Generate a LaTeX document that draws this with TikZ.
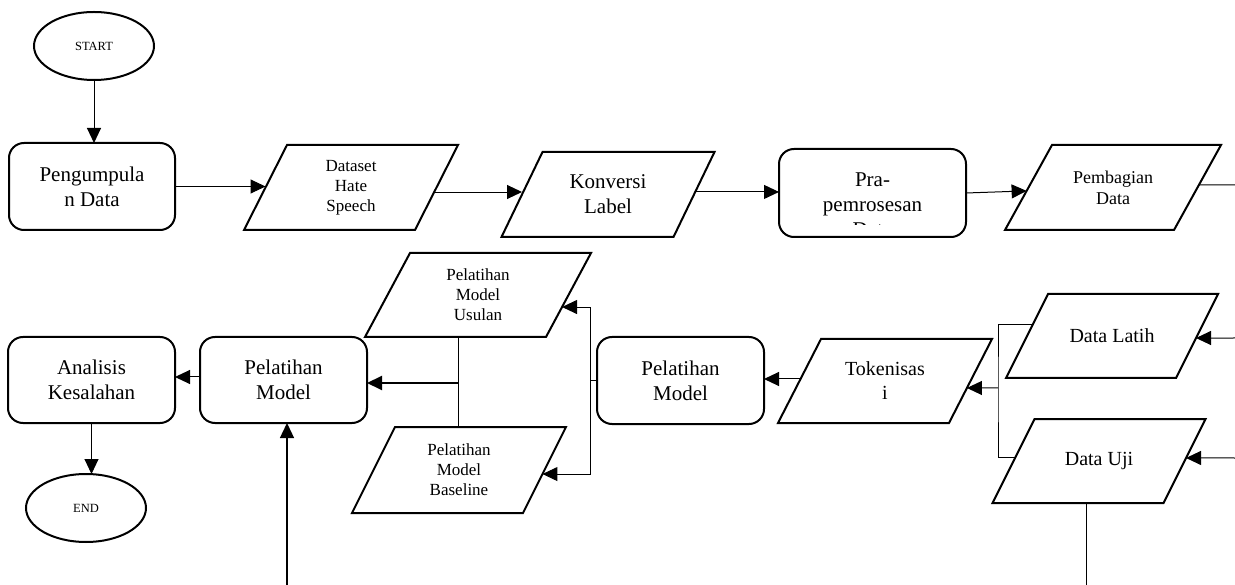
\documentclass[tikz,border=0pt]{standalone}
\usepackage{fontspec}
\setmainfont{Liberation Serif}
\usetikzlibrary{arrows.meta,shapes.geometric,calc}
\newcommand\paral[2]{%
  \coordinate (#1-tl) at ([xshift=#2]#1.north west);
  \coordinate (#1-tr) at ([xshift=#2]#1.north east);
  \coordinate (#1-br) at ([xshift=-#2]#1.south east);
  \coordinate (#1-bl) at ([xshift=-#2]#1.south west);
  \draw[border] (#1-tl) -- (#1-tr) -- (#1-br) -- (#1-bl) -- cycle;}
\begin{document}
\begin{tikzpicture}[x=1pt,y=-1pt,
  border/.style={line width=2pt, line join=miter},
  box/.style={draw, line width=2pt, rounded corners=15pt, align=center, inner sep=2pt, outer sep=0pt},
  term/.style={draw, ellipse, line width=2pt, minimum width=120pt, minimum height=68pt, inner sep=0pt, outer sep=0pt, font=\fontsize{12.5}{15}\selectfont},
  io/.style={inner sep=0pt, outer sep=0pt, align=center},
  conn/.style={line width=1pt},
  arr/.style={conn, -{Triangle[length=15pt,width=14pt]}},
  fb/.style={font=\fontsize{21}{25}\selectfont},
  fm/.style={font=\fontsize{20}{24}\selectfont},
  fs/.style={font=\fontsize{17}{20}\selectfont}
]
\useasboundingbox (0,0) rectangle (1235,585);
% row 1
\node[term] (start) at (94,46) {START};
\node[box, fb, minimum width=166pt, minimum height=87pt] (pd) at (92,186.5) {Pengumpula\\n Data};
\node[io, fs, minimum width=171pt, minimum height=85pt] (ds) at (351,187.5) {Dataset\\Hate\\Speech};
\paral{ds}{21.5pt}
\node[io, fb, minimum width=172pt, minimum height=85pt] (kv) at (608,194.5) {Konversi\\Label};
\paral{kv}{20.5pt}
\node[box, minimum width=187pt, minimum height=88pt] (pp) at (872.5,193) {};
\begin{scope}
  \clip (779,149) rectangle (966,225);
  \node[fb, align=center, inner sep=0pt] (ppt) at (872.5,205) {Pra-\\pemrosesan\\Data};
\end{scope}
\node[io, font=\fontsize{18}{21}\selectfont, minimum width=169pt, minimum height=85pt] (pb) at (1113,187.5) {Pembagian\\Data};
\paral{pb}{23.5pt}
% row 2
\node[box, fb, minimum width=167pt, minimum height=86pt] (an) at (91.5,380) {Analisis\\Kesalahan};
\node[box, fb, minimum width=167pt, minimum height=86pt] (pm1) at (283.5,380) {Pelatihan\\Model};
\node[term] (end) at (86,508) {END};
\node[io, fs, minimum width=181pt, minimum height=84pt] (us) at (478,295) {Pelatihan\\Model\\Usulan};
\paral{us}{22.5pt}
\node[io, fs, minimum width=171pt, minimum height=86pt] (bl) at (459,470) {Pelatihan\\Model\\Baseline};
\paral{bl}{21.5pt}
\node[box, fb, minimum width=167pt, minimum height=87pt] (pm2) at (680.5,380.5) {Pelatihan\\Model};
\node[io, fm, minimum width=171pt, minimum height=84pt] (tk) at (885,381) {Tokenisas\\i};
\paral{tk}{21.5pt}
\node[io, fm, minimum width=170pt, minimum height=84pt] (dl) at (1112,336) {Data Latih};
\paral{dl}{21pt}
\node[io, fm, minimum width=171pt, minimum height=84pt] (du) at (1099,461) {Data Uji};
\paral{du}{21pt}
% connectors row 1
\draw[arr] (start.south) -- (start.south |- pd.north);
\draw[arr] (pd.east) -- (pd.east -| ds.west);
\coordinate (dsR) at ($(ds-tr)!0.553!(ds-br)$);
\draw[arr] (dsR) -- (dsR -| kv.west);
\coordinate (kvR) at ($(kv-tr)!0.47!(kv-br)$);
\draw[arr] (kvR) -- (kvR -| pp.west);
\coordinate (pbL) at ($(pb-tl)!0.54!(pb-bl)$);
\draw[arr] (pp.east) -- (pbL);
\coordinate (pbR) at ($(pb-tr)!0.47!(pb-br)$);
\coordinate (pbOut) at (1235,185);
\draw[conn] (pbR) -- (pbOut);
% connectors row 2
\coordinate (anIn) at ($(pm1.west)+(0,-3)$);
\draw[arr] (anIn) -- (anIn -| an.east);
\draw[arr] (an.south) -- (an.south |- end.north);
\coordinate (usB) at ($(us-bl)!0.514!(us-br)$);
\draw[conn] (usB) -- (usB |- bl.north);
\coordinate (j1) at ($(usB |- pm1.east)+(0,3)$);
\draw[arr, line width=2pt] (j1) -- (j1 -| pm1.east);
\coordinate (bk) at (590,380.5);
\coordinate (usR) at ($(us-tr)!0.643!(us-br)$);
\coordinate (blR) at ($(bl-tr)!0.547!(bl-br)$);
\draw[conn] (pm2.west) -- (bk);
\draw[arr] (bk) |- (usR);
\draw[arr] (bk) |- (blR);
\coordinate (pmIn) at (287,585);
\draw[arr, line width=1.3pt] (pmIn) -- (pmIn |- pm1.south);
\coordinate (tkL) at ($(tk.west)+(0,-2)$);
\draw[arr] (tkL) -- (tkL -| pm2.east);
\coordinate (dlL) at ($(dl-tl)!0.369!(dl-bl)$);
\coordinate (duL) at ($(du-tl)!0.464!(du-bl)$);
\coordinate (jx) at (998,388);
\coordinate (tkR) at ($(tk-tr)!0.583!(tk-br)$);
\draw[conn] (dlL) -| (jx) |- (duL);
\draw[arr] (jx) -- (tkR);
\coordinate (inL) at (1235,338);
\coordinate (dlR) at ($(dl-tr)!0.524!(dl-br)$);
\draw[arr] (inL) -- (dlR);
\coordinate (inU) at (1235,458);
\coordinate (duR) at ($(du-tr)!0.464!(du-br)$);
\draw[arr] (inU) -- (duR);
\coordinate (duB) at ($(du-bl)!0.547!(du-br)$);
\draw[conn] (duB) -- (duB |- pmIn);
\end{tikzpicture}
\end{document}
